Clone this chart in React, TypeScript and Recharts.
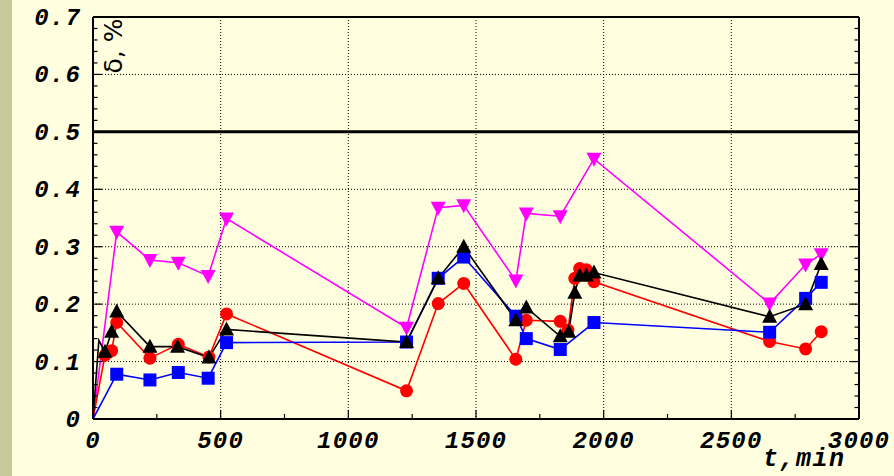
import React from "react";
import {
  LineChart,
  Line,
  XAxis,
  YAxis,
  CartesianGrid,
  ReferenceLine,
} from "recharts";

// time, min and relative deviation, % for each run
const magentaT = [0, 93, 223, 334, 451, 523, 1228, 1352, 1452, 1656, 1697, 1830, 1962, 2650, 2791, 2852];
const magentaD = [0, 0.326, 0.277, 0.272, 0.249, 0.349, 0.159, 0.368, 0.372, 0.241, 0.358, 0.353, 0.453, 0.201, 0.269, 0.287];

const redT = [0, 47, 73, 93, 223, 334, 454, 523, 1228, 1352, 1452, 1656, 1697, 1830, 1860, 1887, 1906, 1932, 1962, 2650, 2791, 2852];
const redD = [0, 0.111, 0.119, 0.168, 0.106, 0.13, 0.108, 0.183, 0.049, 0.201, 0.236, 0.104, 0.172, 0.17, 0.155, 0.245, 0.262, 0.26, 0.239, 0.135, 0.122, 0.152];

const blueT = [0, 93, 223, 334, 451, 523, 1228, 1352, 1452, 1656, 1697, 1830, 1962, 2650, 2791, 2852];
const blueD = [0, 0.078, 0.068, 0.081, 0.071, 0.133, 0.134, 0.245, 0.282, 0.179, 0.14, 0.121, 0.168, 0.151, 0.21, 0.238];

const blackT = [0, 23, 47, 73, 93, 223, 331, 454, 523, 1228, 1352, 1452, 1656, 1697, 1830, 1863, 1887, 1906, 1932, 1962, 2650, 2791, 2852];
const blackD = [0, 0.137, 0.117, 0.152, 0.187, 0.126, 0.126, 0.107, 0.156, 0.134, 0.245, 0.3, 0.172, 0.194, 0.144, 0.152, 0.22, 0.25, 0.25, 0.255, 0.178, 0.2, 0.27];

const xMajor = [0, 500, 1000, 1500, 2000, 2500, 3000];
const yMajor = [0, 0.1, 0.2, 0.3, 0.4, 0.5, 0.6, 0.7];
const xTicks = Array.from({ length: 13 }, (_, i) => i * 250);
const yTicks = Array.from({ length: 36 }, (_, i) => Math.round(i * 2) / 100);
const limitLine = 0.5;

const zip = (t: number[], d: number[]) => t.map((v, i) => ({ t: v, d: d[i] }));

const tickFont = {
  fontFamily: "Liberation Mono",
  fontWeight: "bold" as const,
  fontStyle: "italic" as const,
  fontSize: 24,
  letterSpacing: 1.2,
};

const isMajorY = (v: number) => Math.abs(v * 10 - Math.round(v * 10)) < 1e-6;
const isMajorX = (v: number) => v % 500 === 0;

function makeYTick(side: "left" | "right") {
  return (props: any) => {
    const { x, y, payload } = props;
    const v = payload.value;
    const major = isMajorY(v);
    const len = major ? 9 : 4.5;
    const dir = side === "left" ? 1 : -1;
    return (
      <g>
        <line x1={x} x2={x + dir * len} y1={y} y2={y} stroke="#000" strokeWidth={1.2} />
        {side === "left" && major && (
          <text x={x - 12} y={y + 8} textAnchor="end" fill="#000" style={tickFont}>
            {String(Math.round(v * 10) / 10)}
          </text>
        )}
      </g>
    );
  };
}

function makeXTick(side: "top" | "bottom") {
  return (props: any) => {
    const { x, y, payload } = props;
    const v = payload.value;
    const major = isMajorX(v);
    const len = major ? 9 : 5;
    const dir = side === "bottom" ? -1 : 1;
    return (
      <g>
        <line x1={x} x2={x} y1={y} y2={y + dir * len} stroke="#000" strokeWidth={1.2} />
        {side === "bottom" && major && (
          <text x={x} y={y + 29} textAnchor="middle" fill="#000" style={tickFont}>
            {String(v)}
          </text>
        )}
      </g>
    );
  };
}

type Shape = "circle" | "square" | "up" | "down";

// first `bare` points of a series are drawn without a marker
function makeDot(shape: Shape, color: string, bare: number) {
  return (props: any) => {
    const { cx, cy, index } = props;
    if (index < bare || cx == null || cy == null) return <g key={`n${index}`} />;
    if (shape === "circle")
      return <circle key={`c${index}`} cx={cx} cy={cy} r={6.5} fill={color} />;
    if (shape === "square")
      return <rect key={`s${index}`} x={cx - 6.5} y={cy - 6.5} width={13} height={13} fill={color} />;
    const pts =
      shape === "up"
        ? `${cx},${cy - 8} ${cx - 7.5},${cy + 6} ${cx + 7.5},${cy + 6}`
        : `${cx},${cy + 8} ${cx - 7.5},${cy - 6} ${cx + 7.5},${cy - 6}`;
    return <polygon key={`p${index}`} points={pts} fill={color} />;
  };
}

const series = [
  { name: "magenta", data: zip(magentaT, magentaD), color: "#ff00ff", shape: "down" as Shape, bare: 1 },
  { name: "red", data: zip(redT, redD), color: "#ff0000", shape: "circle" as Shape, bare: 1 },
  { name: "blue", data: zip(blueT, blueD), color: "#0000ff", shape: "square" as Shape, bare: 1 },
  { name: "black", data: zip(blackT, blackD), color: "#000000", shape: "up" as Shape, bare: 2 },
];

const axisLine = { stroke: "#000", strokeWidth: 2 };

export default function App() {
  return (
    <div
      style={{
        position: "absolute",
        left: 0,
        top: 0,
        width: 894,
        height: 476,
        background: "#ffffe0",
        overflow: "hidden",
      }}
    >
      <div style={{ position: "absolute", left: 0, top: 0, width: 12, height: 476, background: "#c8c89b" }} />
      <div style={{ position: "absolute", left: 0, top: 0 }}>
        <LineChart width={894} height={476} margin={{ top: 16, right: 34, bottom: 17, left: 12 }}>
          <CartesianGrid
            xAxisId="x"
            yAxisId="y"
            stroke="#000"
            strokeWidth={1}
            strokeDasharray="1 2"
            verticalValues={xMajor}
            horizontalValues={yMajor}
          />
          <XAxis
            xAxisId="x"
            dataKey="t"
            type="number"
            domain={[0, 3000]}
            ticks={xTicks}
            interval={0}
            height={40}
            tickSize={0}
            tickMargin={0}
            tickLine={false}
            axisLine={axisLine}
            tick={makeXTick("bottom")}
            allowDataOverflow
          />
          <XAxis
            xAxisId="top"
            orientation="top"
            type="number"
            domain={[0, 3000]}
            ticks={xTicks}
            interval={0}
            height={1}
            tickSize={0}
            tickMargin={0}
            tickLine={false}
            axisLine={axisLine}
            tick={makeXTick("top")}
            allowDataOverflow
          />
          <YAxis
            yAxisId="y"
            type="number"
            domain={[0, 0.7]}
            ticks={yTicks}
            interval={0}
            width={81}
            tickSize={0}
            tickMargin={0}
            tickLine={false}
            axisLine={axisLine}
            tick={makeYTick("left")}
            allowDataOverflow
          />
          <YAxis
            yAxisId="right"
            orientation="right"
            type="number"
            domain={[0, 0.7]}
            ticks={yTicks}
            interval={0}
            width={1}
            tickSize={0}
            tickMargin={0}
            tickLine={false}
            axisLine={axisLine}
            tick={makeYTick("right")}
            allowDataOverflow
          />
          <ReferenceLine xAxisId="x" yAxisId="y" y={limitLine} stroke="#000" strokeWidth={3} />
          {series.map((s) => (
            <Line
              key={s.name}
              xAxisId="x"
              yAxisId="y"
              data={s.data}
              dataKey="d"
              type="linear"
              stroke={s.color}
              strokeWidth={1.6}
              dot={makeDot(s.shape, s.color, s.bare)}
              activeDot={false}
              isAnimationActive={false}
            />
          ))}
        </LineChart>
      </div>
      <div
        style={{
          position: "absolute",
          left: 113,
          top: 46,
          transform: "translate(-50%, -50%) rotate(-90deg)",
          fontFamily: "DejaVu Sans",
          fontSize: 25,
          whiteSpace: "nowrap",
          color: "#000",
        }}
      >
        δ, %
      </div>
      <div
        style={{
          position: "absolute",
          left: 763,
          top: 451,
          fontFamily: "Liberation Mono",
          fontWeight: "bold",
          fontStyle: "italic",
          fontSize: 25,
          letterSpacing: 1.5,
          lineHeight: "18px",
          color: "#000",
        }}
      >
        t,min
      </div>
    </div>
  );
}
